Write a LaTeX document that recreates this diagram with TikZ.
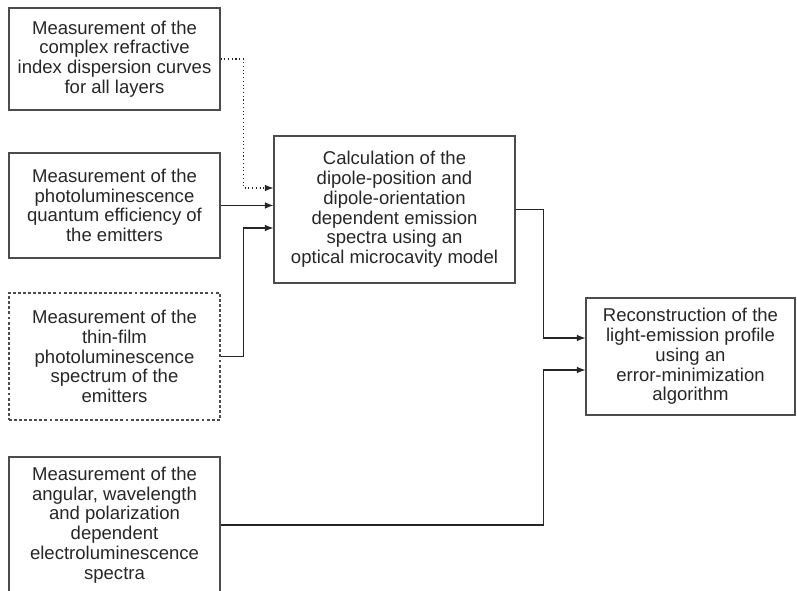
\documentclass[tikz,border=0pt]{standalone}
\usepackage{fontspec}
\setmainfont{Liberation Sans}
\usetikzlibrary{calc,arrows.meta}
\begin{document}
\begin{tikzpicture}[x=0.75pt, y=-0.75pt]
  \useasboundingbox (0,0) rectangle (797,591);  % Seitenformat.
  \tikzstyle{box}=[draw=black!70, line width=0.8pt, align=center, inner sep=0pt, text=black!85, font=\fontsize{13.9}{14.8}\selectfont]
  \tikzstyle{meas}=[box, minimum width=158.25pt]
  \tikzstyle{link}=[draw=black!85, line width=0.8pt, line join=miter, -{Latex[length=6.5pt, width=5pt]}]

  \node[meas, minimum height=76.5pt]  (refr)    at (114.5, 59)    {Measurement of the\\complex refractive\\index dispersion curves\\for all layers};
  \node[meas, minimum height=78.75pt] (plqe)    at (114.5, 205.5) {Measurement of the\\photoluminescence\\quantum efficiency of\\the emitters};
  \node[meas, minimum height=95.25pt, dash pattern=on 2.2pt off 1.6pt] (thin) at (114.5, 356.5) {Measurement of the\\thin-film\\photoluminescence\\spectrum of the\\emitters};
  \node[meas, minimum height=102pt]   (angular) at (114.5, 525)   {Measurement of the\\angular, wavelength\\and polarization\\dependent\\electroluminescence\\spectra};
  \node[box, minimum width=180.75pt, minimum height=110.25pt] (calc)  at (394.5, 209.5) {Calculation of the\\dipole-position and\\dipole-orientation\\dependent emission\\spectra using an\\optical microcavity model};
  \node[box, minimum width=156.75pt, minimum height=87.75pt]  (recon) at (690.5, 356.5) {Reconstruction of the\\light-emission profile\\using an\\error-minimization\\algorithm};

  \draw[link, dotted] (refr.east) -- ++(23,0) |- ($(calc.west)+(0,-21.5)$);
  \draw[link] (plqe.east) -- (plqe.east -| calc.west);
  \draw[link] (thin.east) -- ++(23,0) |- ($(calc.west)+(0,18.5)$);
  \draw[link] (calc.east) -- ++(28,0) |- ($(recon.west)+(0,-18.5)$);
  \draw[link] (angular.east) -- ++(323,0) |- ($(recon.west)+(0,13.5)$);
\end{tikzpicture}
\end{document}
